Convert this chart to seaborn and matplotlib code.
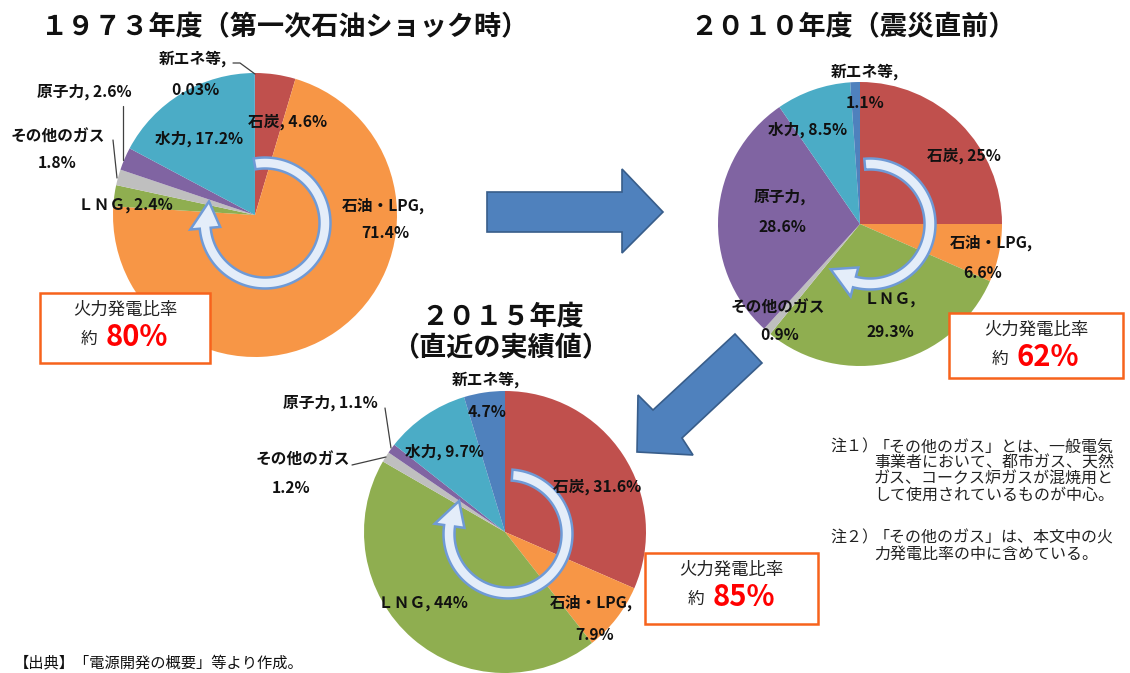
import numpy as np
import matplotlib
matplotlib.use("Agg")
import matplotlib.pyplot as plt
from matplotlib.patches import Polygon, Rectangle
import seaborn as sns

# ---------------- data ----------------
categories = ["石炭", "石油・LPG", "ＬＮＧ", "その他のガス", "原子力", "水力", "新エネ等"]
values_1973 = [4.6, 71.4, 2.4, 1.8, 2.6, 17.2, 0.03]
values_2010 = [25, 6.6, 29.3, 0.9, 28.6, 8.5, 1.1]
values_2015 = [31.6, 7.9, 44, 1.2, 1.1, 9.7, 4.7]
titles = ["１９７３年度（第一次石油ショック時）", "２０１０年度（震災直前）", "２０１５年度\n（直近の実績値）"]
thermal_ratio = ["80%", "62%", "85%"]
box_caption = "火力発電比率"
notes = [
    ("注１）", ["「その他のガス」とは、一般電気", "事業者において、都市ガス、天然",
              "ガス、コークス炉ガスが混焼用と", "して使用されているものが中心。"]),
    ("注２）", ["「その他のガス」は、本文中の火", "力発電比率の中に含めている。"]),
]
source_text = "【出典】「電源開発の概要」等より作成。"

# ---------------- style ----------------
sns.set_theme(style="white")
plt.rcParams["font.family"] = ["Noto Sans CJK JP", "DejaVu Sans"]
palette = sns.color_palette(["#C0504D", "#F79646", "#8FAE50", "#BFBFBF", "#8064A2", "#4BACC6", "#4F81BD"])

W, H = 1130, 673
def Y(y):
    return H - y

fig = plt.figure(figsize=(W / 100, H / 100), dpi=100)
ax = fig.add_axes([0, 0, 1, 1])

# pies: (values, center x, center y, radius) in pixel layout
pies = [(values_1973, 255, 215, 142), (values_2010, 860, 224, 142), (values_2015, 505, 532, 141)]
for vals, cx, cy, r in pies:
    ax.pie(vals, colors=palette, startangle=90, counterclock=False,
           center=(cx, Y(cy)), radius=r, frame=False,
           wedgeprops=dict(linewidth=0.4, edgecolor="none"))

# circular arrows
def ring_arrow(cx, cy, r, a0, a1, w=5.5, hw=15, hl=26):
    cyu = Y(cy)
    ah = a1 + hl
    t = np.radians(np.linspace(a0, ah, 120))
    outer = np.c_[cx + (r + w) * np.cos(t), cyu + (r + w) * np.sin(t)]
    inner = np.c_[cx + (r - w) * np.cos(t), cyu + (r - w) * np.sin(t)][::-1]
    tah, ta1 = np.radians(ah), np.radians(a1)
    head = np.array([
        [cx + (r + hw) * np.cos(tah), cyu + (r + hw) * np.sin(tah)],
        [cx + r * np.cos(ta1), cyu + r * np.sin(ta1)],
        [cx + (r - hw) * np.cos(tah), cyu + (r - hw) * np.sin(tah)],
    ])
    pts = np.vstack([outer, head, inner])
    ax.add_patch(Polygon(pts, closed=True, facecolor="#E4EDF9", edgecolor="#6F9AD6",
                         linewidth=1.8, zorder=4))

ring_arrow(265, 223, 60, 100, -201)
ring_arrow(870, 224, 60, 95, -131)
ring_arrow(508, 534, 59, 86, -214)

# big blue arrows
def poly(points, **kw):
    ax.add_patch(Polygon([(x, Y(y)) for x, y in points], closed=True, **kw))

arrow_style = dict(facecolor="#4F81BD", edgecolor="#385D8A", linewidth=1.2, zorder=3)
poly([(487, 192), (622, 192), (622, 169), (663, 212), (622, 253), (622, 232), (487, 232)], **arrow_style)
poly([(735, 334), (653, 410), (638, 395), (637, 452), (693, 455), (682, 438), (762, 363)], **arrow_style)

# pie labels
def fmt(v):
    return f"{v:g}%"

lab_kw = dict(fontsize=11.3, fontweight="bold", color="#111111", va="center", zorder=6)
label_layout = [
    # (pie index, category index, template, x, y, ha)
    (0, 6, "{n},", 193, 59, "center"), (0, 6, "{p}", 195, 90, "center"),
    (0, 4, "{n}, {p}", 132, 92, "right"),
    (0, 3, "{n}", 58, 137, "center"), (0, 3, "{p}", 57, 163, "center"),
    (0, 2, "{n}, {p}", 173, 205, "right"),
    (0, 5, "{n}, {p}", 199, 139, "center"),
    (0, 0, "{n}, {p}", 288, 122, "center"),
    (0, 1, "{n},", 342, 206, "left"), (0, 1, "{p}", 385, 233, "center"),

    (1, 6, "{n},", 865, 72, "center"), (1, 6, "{p}", 865, 103, "center"),
    (1, 5, "{n}, {p}", 808, 130, "center"),
    (1, 0, "{n}, {p}", 927, 156, "left"),
    (1, 4, "{n},", 780, 197, "center"), (1, 4, "{p}", 782, 227, "center"),
    (1, 1, "{n},", 950, 243, "left"), (1, 1, "{p}", 983, 273, "center"),
    (1, 2, "{n},", 890, 300, "center"), (1, 2, "{p}", 890, 332, "center"),
    (1, 3, "{n}", 778, 308, "center"), (1, 3, "{p}", 780, 335, "center"),

    (2, 6, "{n},", 486, 380, "center"), (2, 6, "{p}", 487, 412, "center"),
    (2, 4, "{n}, {p}", 283, 403, "left"),
    (2, 3, "{n}", 350, 460, "right"), (2, 3, "{p}", 291, 488, "center"),
    (2, 5, "{n}, {p}", 444, 452, "center"),
    (2, 0, "{n}, {p}", 553, 487, "left"),
    (2, 2, "{n}, {p}", 423, 603, "center"),
    (2, 1, "{n},", 550, 603, "left"), (2, 1, "{p}", 595, 635, "center"),
]
all_vals = [values_1973, values_2010, values_2015]
for pi, ci, tpl, x, y, ha in label_layout:
    ax.text(x, Y(y), tpl.format(n=categories[ci], p=fmt(all_vals[pi][ci])), ha=ha, **lab_kw)

# leader lines
lines = [
    [(233, 63), (240, 63), (255, 74)],
    [(123, 106), (123, 160)],
    [(113, 140), (117, 178)],
    [(385, 408), (391, 448)],
    [(352, 465), (386, 457)],
]
for ln in lines:
    xs, ys = zip(*ln)
    ax.plot(xs, [Y(v) for v in ys], color="#404040", lw=0.9, zorder=5)

# titles
title_kw = dict(fontsize=19.5, fontweight="bold", color="#111111", ha="center", va="center", zorder=6)
ax.text(285, Y(27), titles[0], **title_kw)
ax.text(853, Y(27), titles[1], **title_kw)
t3a, t3b = titles[2].split("\n")
ax.text(503, Y(317), t3a, **title_kw)
ax.text(501, Y(348), t3b, **title_kw)

# thermal ratio boxes (x0, y0, x1, y1)
boxes = [(40, 293, 210, 363), (949, 313, 1123, 378), (645, 553, 818, 624)]
for (x0, y0, x1, y1), pct in zip(boxes, thermal_ratio):
    ax.add_patch(Rectangle((x0, Y(y1)), x1 - x0, y1 - y0, facecolor="white",
                           edgecolor="#F7631C", linewidth=1.8, zorder=5))
    bc = (x0 + x1) / 2
    ax.text(bc, Y(y0 + 17), box_caption, fontsize=12.5, color="#222222",
            ha="center", va="center", zorder=6)
    ax.text(bc - 36, Y(y0 + 46), "約", fontsize=12, color="#222222",
            ha="center", va="center", zorder=6)
    ax.text(bc - 19, Y(y0 + 44), pct, fontsize=21, fontweight="bold", color="#FF0000",
            ha="left", va="center", zorder=6)

# notes
note_kw = dict(fontsize=11.5, color="#222222", va="center", ha="left", zorder=6)
ny = [447, 538]
for (head, body), y0 in zip(notes, ny):
    ax.text(830, Y(y0), head, **note_kw)
    for k, line in enumerate(body):
        ax.text(874, Y(y0 + 16 * k), line, **note_kw)

ax.text(14, Y(663), source_text, fontsize=11, color="#111111", ha="left", va="center", zorder=6)

ax.set_xlim(0, W)
ax.set_ylim(0, H)
ax.set_aspect("auto")
ax.axis("off")
fig.savefig("out.png", dpi=100, facecolor="white")
